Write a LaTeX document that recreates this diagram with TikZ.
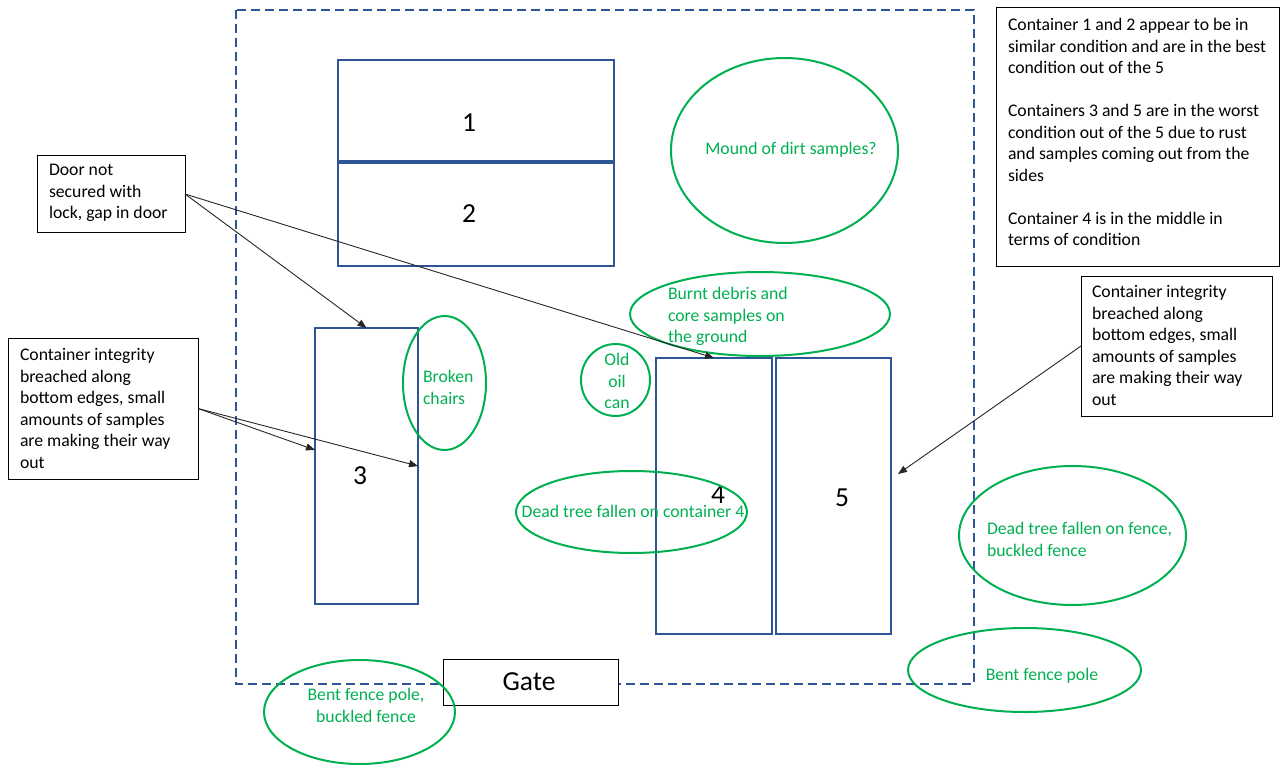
\documentclass[tikz,border=0pt]{standalone}
\usepackage{fontspec}
\setmainfont{Carlito}
\usetikzlibrary{arrows.meta,shapes.geometric}
\definecolor{cblue}{RGB}{47,85,151}
\definecolor{sgreen}{RGB}{0,176,80}
\begin{document}
\begin{tikzpicture}[x=1pt,y=-1pt,
  every node/.style={inner sep=0pt,outer sep=0pt,font=\fontsize{17.7}{21.5}\selectfont},
  container/.style={draw=cblue,line width=2pt,minimum width=#1},
  bignum/.style={font=\fontsize{27.5}{30}\selectfont},
  notebox/.style={draw=black,line width=1pt,fill=white},
  notetext/.style={anchor=north west,align=left},
  spot/.style={draw=sgreen,line width=2pt,ellipse},
  spottext/.style={text=sgreen},
  pointer/.style={draw=black!85,line width=0.9pt,-{Triangle[length=9pt,width=7pt]}}]
\useasboundingbox (0,0) rectangle (1280,765);

% site fence
\draw[cblue,line width=2pt,dash pattern=on 9pt off 5pt] (236,10) rectangle (974,684);

% containers
\node[container=276,minimum height=101] (c1) at (476,110.5) {};
\node[container=276,minimum height=103] (c2) at (476,214.5) {};
\node[container=103,minimum height=276] (c3) at (366.5,466) {};
\node[container=116,minimum height=276] (c4) at (714,496) {};
\node[container=115,minimum height=276] (c5) at (833.5,496) {};
\node[bignum] (n1) at (469,123) {1};
\node[bignum] (n2) at (469,214) {2};
\node[bignum] (n3) at (360,476) {3};
\node[bignum] (n4) at (718,495) {4};
\node[bignum] (n5) at (842,498) {5};

% gate
\node[notebox,minimum width=175,minimum height=46] (gate) at (530.5,682) {};
\node[bignum] (gatetext) at (529,682) {Gate};

% observed items
\node[spot,minimum width=227,minimum height=185] (mound) at (784.5,150.5) {};
\node[spottext] (moundtext) at (791,150) {Mound of dirt samples?};

\node[spot,minimum width=260,minimum height=84] (burnt) at (760,314) {};
\node[spottext,notetext] (burnttext) at (668,287.5) {Burnt debris and\\core samples on\\the ground};

\node[spot,minimum width=83,minimum height=134] (chairs) at (444.5,383) {};
\node[spottext,notetext] (chairstext) at (423,370.5) {Broken\\chairs};

\node[spot,minimum width=69,minimum height=72] (oil) at (615.5,380) {};
\node[spottext,anchor=north,align=center] (oiltext) at (617,353.5) {Old\\oil\\can};

\node[spot,minimum width=231,minimum height=82] (tree4) at (631.5,512) {};
\node[spottext] (tree4text) at (633,511) {Dead tree fallen on container 4};

\node[spot,minimum width=227,minimum height=139] (treefence) at (1072.5,535.5) {};
\node[spottext,notetext] (treefencetext) at (987,522.5) {Dead tree fallen on fence,\\buckled fence};

\node[spot,minimum width=233,minimum height=84] (poleR) at (1024.5,670) {};
\node[spottext] (poleRtext) at (1042,676) {Bent fence pole};

\node[spot,minimum width=191,minimum height=104] (poleL) at (359.5,712) {};
\node[spottext,anchor=north,align=center] (poleLtext) at (366,688.5) {Bent fence pole,\\buckled fence};

% notes
\node[notebox,minimum width=148,minimum height=76] (door) at (111,194) {};
\node[notetext] (doortext) at (49,164.5) {Door not\\secured with\\lock, gap in door};

\node[notebox,minimum width=190,minimum height=141] (breachL) at (103,408.5) {};
\node[notetext] (breachLtext) at (20,348.5) {Container integrity\\breached along\\bottom edges, small\\amounts of samples\\are making their way\\out};

\node[notebox,minimum width=191,minimum height=140] (breachR) at (1176.5,346) {};
\node[notetext] (breachRtext) at (1092,285.5) {Container integrity\\breached along\\bottom edges, small\\amounts of samples\\are making their way\\out};

\node[notebox,minimum width=283,minimum height=258] (summary) at (1137.5,137) {};
\node[notetext] (summarytext) at (1008,18.5) {Container 1 and 2 appear to be in\\similar condition and are in the best\\condition out of the 5\\[21.5pt]Containers 3 and 5 are in the worst\\condition out of the 5 due to rust\\and samples coming out from the\\sides\\[21.5pt]Container 4 is in the middle in\\terms of condition};

% pointers
\coordinate (c3side) at (315,450);
\coordinate (c5side) at (898,474);
\draw[pointer] (door.east) -- (c3.north);
\draw[pointer] (door.east) -- (c4.north);
\draw[pointer] (breachL.east) -- (c3side);
\draw[pointer] (breachL.east) -- (c3.east);
\draw[pointer] (breachR.west) -- (c5side);
\end{tikzpicture}
\end{document}
